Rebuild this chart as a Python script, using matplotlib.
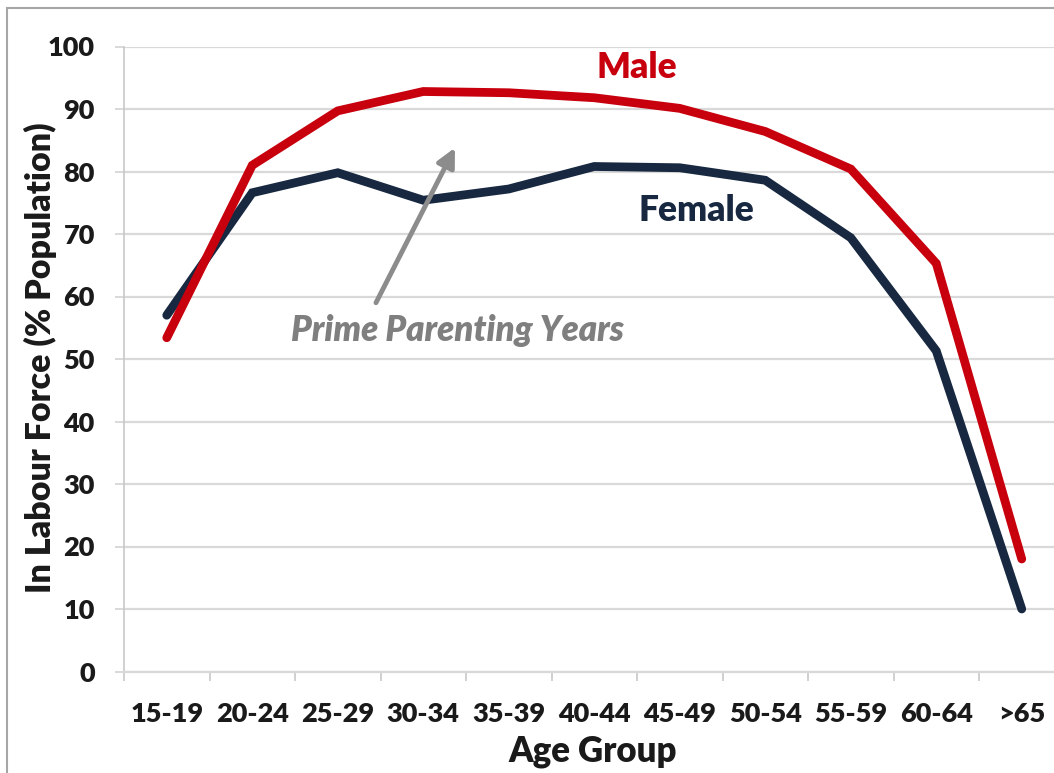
import matplotlib
matplotlib.use("Agg")
import matplotlib.pyplot as plt
from matplotlib.patches import Rectangle
import numpy as np

categories = ["15-19", "20-24", "25-29", "30-34", "35-39", "40-44",
              "45-49", "50-54", "55-59", "60-64", ">65"]
male = [53.4, 81.0, 89.7, 92.8, 92.6, 91.8, 90.1, 86.4, 80.4, 65.3, 18.0]
female = [57.0, 76.6, 79.8, 75.4, 77.2, 80.8, 80.6, 78.6, 69.4, 51.3, 10.0]
yticks = list(range(0, 101, 10))

RED = "#C8000E"
NAVY = "#172840"
GRID = "#D9D9D9"
FONT = "Lato"

plt.rcParams["font.family"] = [FONT, "DejaVu Sans"]

W, H = 1054, 773
fig = plt.figure(figsize=(W / 100, H / 100), dpi=100)
fig.patch.set_facecolor("white")

left_px, right_px = 124, 1064.5
bottom_px, top_px = 671.5, 46.5
ax = fig.add_axes([left_px / W, 1 - bottom_px / H,
                   (right_px - left_px) / W, (bottom_px - top_px) / H])

x = np.arange(len(categories))
ax.plot(x, female, color=NAVY, lw=6.3, solid_capstyle="round",
        solid_joinstyle="miter", zorder=3)
ax.plot(x, male, color=RED, lw=6.3, solid_capstyle="round",
        solid_joinstyle="miter", zorder=4)

ax.set_xlim(-0.5, len(categories) - 0.5)
ax.set_ylim(0, 100)
ax.set_yticks(yticks)
ax.set_yticklabels([str(v) for v in yticks])
ax.set_xticks(x)
ax.set_xticklabels(categories)
ax.set_xticks(np.arange(len(categories) + 1) - 0.5, minor=True)

ax.grid(axis="y", color=GRID, lw=1.6, zorder=0)
for s in ["top", "right"]:
    ax.spines[s].set_visible(False)
ax.spines["left"].set_color("#C8C8C8")
ax.spines["left"].set_linewidth(1.2)
ax.spines["bottom"].set_color(GRID)
ax.spines["bottom"].set_linewidth(1.6)

ax.tick_params(axis="y", length=6.5, width=1.4, color=GRID, pad=14.5,
               labelsize=19.5, labelcolor="#1A1A1A")
ax.tick_params(axis="x", which="major", length=0, pad=22,
               labelsize=19.5, labelcolor="#1A1A1A")
ax.tick_params(axis="x", which="minor", length=6.5, width=1.2, color="#C8C8C8")
for lab in ax.get_xticklabels() + ax.get_yticklabels():
    lab.set_fontweight("heavy")

fig.text(593 / W, 1 - 752 / H, "Age Group", fontsize=25, fontweight="heavy",
         color="#1A1A1A", ha="center", va="center")
fig.text(40 / W, 1 - 358 / H, "In Labour Force (% Population)", fontsize=24.5,
         fontweight="heavy", color="#1A1A1A", ha="center", va="center",
         rotation=90)

ax.text(5.5, 96.6, "Male", color=RED, fontsize=25.5, fontweight="heavy",
        ha="center", va="center")
ax.text(6.19, 73.8, "Female", color=NAVY, fontsize=25.5, fontweight="heavy",
        ha="center", va="center")
ax.text(3.406, 54.6, "Prime Parenting Years", color="#7F7F7F", fontsize=25,
        fontweight="heavy", fontstyle="italic", ha="center", va="center")
ax.annotate("", xy=(3.371, 83.8), xytext=(2.447, 59.0),
            arrowprops=dict(arrowstyle="-|>", color="#8C8C8C", lw=3.5,
                            mutation_scale=28, shrinkA=0, shrinkB=0),
            zorder=5)

fig.patches.append(Rectangle((7 / W, -0.1), 1.2, 1.1 - 8.5 / H,
                             transform=fig.transFigure, fill=False,
                             edgecolor="#A6A6A6", lw=1.5))

fig.savefig("out.png", dpi=100)
